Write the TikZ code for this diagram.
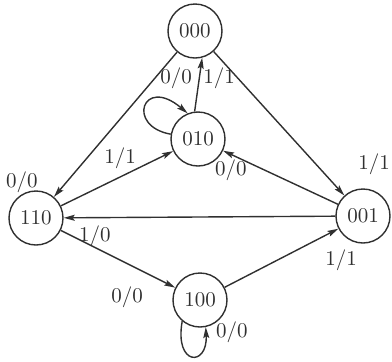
\documentclass[tikz,border=0pt]{standalone}
\usepackage{tikz}
\usetikzlibrary{arrows.meta,positioning}
\definecolor{inkgray}{HTML}{303030}

\begin{document}
\begin{tikzpicture}[
			x=0.5pt,y=0.5pt,
			estado/.style={circle,draw=inkgray,line width=0.7pt,minimum size=27pt,inner sep=0pt,font=\fontsize{10.5}{12}\selectfont,text=inkgray},
			etiq/.style={font=\fontsize{10.5}{12}\selectfont,text=inkgray,inner sep=1pt},
			arr/.style={-{Stealth[length=5.5pt,width=3pt,inset=1pt]},line width=0.7pt,inkgray}
			]
			\useasboundingbox (0,0) rectangle (392,361);
			% estados
			\node[estado] (s000) at (195,330) {000};
			\node[estado] (s010) at (198,222) {010};
			\node[estado] (s110) at (36,143) {110};
			\node[estado] (s001) at (363,145) {001};
			\node[estado] (s100) at (200,61) {100};
			% transiciones
			\draw[arr] (s000) -- (s110);
			\draw[arr] (s000) -- (s001);
			\draw[arr] (s010.97) -- (s000.-75);
			\draw[arr] (s010.170) .. controls +(-45,8) and +(-45,38) .. (s010.112);
			\draw[arr] (s110) -- (s010);
			\draw[arr] (s001) -- (s010);
			\draw[arr] (s001) -- (s110);
			\draw[arr] (s110) -- (s100);
			\draw[arr] (s100) -- (s001);
			\draw[arr] (s100.230) .. controls +(-8,-45) and +(2,-40) .. (s100.282);
			% etiquetas
			\node[etiq] (e1) at (22,179) {0/0};
			\node[etiq] (e2) at (374,197) {1/1};
			\node[etiq] (e3) at (176,283) {0/0};
			\node[etiq] (e4) at (219,283) {1/1};
			\node[etiq] (e5) at (120,203) {1/1};
			\node[etiq] (e6) at (231,191) {0/0};
			\node[etiq] (e7) at (95,125) {1/0};
			\node[etiq] (e8) at (127,64) {0/0};
			\node[etiq] (e9) at (341,101) {1/1};
			\node[etiq] (e10) at (232,29) {0/0};
		\end{tikzpicture}
\end{document}
